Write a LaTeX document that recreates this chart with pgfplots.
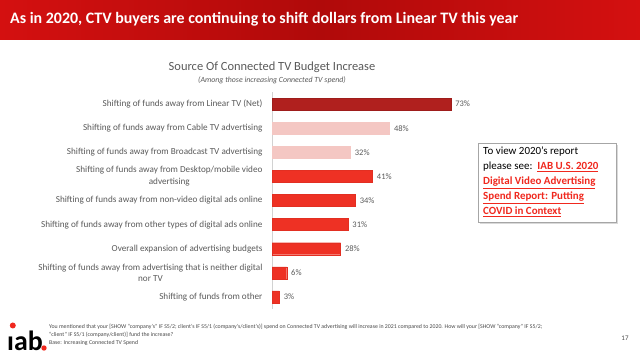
\documentclass[border=0pt]{standalone}
\usepackage{pgfplots}
\pgfplotsset{compat=1.18}
\usepackage{fontspec}
\setmainfont{Carlito}
\definecolor{bannerred}{HTML}{D41010}
\definecolor{bannerdark}{HTML}{B00A0A}
\definecolor{darkred}{HTML}{B0201E}
\definecolor{pinkbar}{HTML}{F4C7C3}
\definecolor{barred}{HTML}{EE3124}
\definecolor{txt}{HTML}{595959}
\definecolor{linkred}{HTML}{F0281E}
\begin{document}
\begin{tikzpicture}
\path[use as bounding box] (0bp,0bp) rectangle (640bp,359bp);
% banner
\shade[left color=bannerred, right color=bannerred, middle color=bannerdark] (0bp,319bp) rectangle (640bp,359bp);
\node[anchor=west, text=white, font=\fontsize{16}{18}\selectfont\bfseries, inner sep=0] at (10bp,340bp) {As in 2020, CTV buyers are continuing to shift dollars from Linear TV this year};
% chart titles
\node[font=\fontsize{12.5}{14}\selectfont, text=txt, inner sep=0] at (272bp,292bp) {Source Of Connected TV Budget Increase};
\node[font=\fontsize{7.9}{9}\selectfont\itshape, text=txt, inner sep=0] at (272bp,279bp) {(Among those increasing Connected TV spend)};
\begin{axis}[at={(272bp,50bp)}, anchor=south west, scale only axis,
  width=245bp, height=217bp, xmin=0, xmax=100, ymin=-0.5, ymax=8.5,
  y dir=reverse, xbar, bar width=12bp, bar shift=0pt,
  hide x axis, axis y line*=left, axis line style={-, gray!35},
  ytick={0,...,8}, major tick length=0pt,
  /pgf/number format/assume math mode=true,
  yticklabels={
    Shifting of funds away from Linear TV (Net),
    Shifting of funds away from Cable TV advertising,
    Shifting of funds away from Broadcast TV advertising,
    {Shifting of funds away from Desktop/mobile video\\advertising},
    Shifting of funds away from non-video digital ads online,
    Shifting of funds away from other types of digital ads online,
    Overall expansion of advertising budgets,
    {Shifting of funds away from advertising that is neither digital\\nor TV},
    Shifting of funds from other},
  yticklabel style={align=center, font=\fontsize{9.2}{12}\selectfont, text=txt, xshift=-6bp},
  nodes near coords={\pgfmathprintnumber{\pgfplotspointmeta}\%},
  every node near coord/.append style={font=\fontsize{8.5}{9}\selectfont, text=txt, xshift=1bp},
  clip=false]
\addplot[fill=darkred, draw=darkred!90!black] coordinates {(73,0)};
\addplot[fill=pinkbar, draw=pinkbar] coordinates {(48,1) (32,2)};
\addplot[fill=barred, draw=barred!95!black] coordinates {(41,3) (34,4) (31,5) (28,6) (6,7) (3,8)};
\end{axis}
% text box
\fill[gray!30] (480bp,135bp) rectangle (618bp,214bp);
\filldraw[draw=gray!70, fill=white] (478bp,137bp) rectangle (616bp,216bp);
\node[anchor=north west, align=left, inner sep=0, font=\fontsize{11}{15}\selectfont] at (483bp,212bp) {%
To view 2020’s report\\
please see:\ \ \textcolor{linkred}{\bfseries\underline{IAB U.S. 2020}}\\
\textcolor{linkred}{\bfseries\underline{Digital Video Advertising}}\\
\textcolor{linkred}{\bfseries\underline{Spend Report: Putting}}\\
\textcolor{linkred}{\bfseries\underline{COVID in Context}}};
% footer logo
\node[anchor=south west, inner sep=0, font=\fontsize{28}{28}\selectfont\bfseries] at (7bp,8bp) {\i ab};
\fill[linkred] (12.8bp,33.5bp) circle (3bp);
\fill[linkred] (44bp,11bp) circle (2.7bp);
\node[anchor=north west, align=left, inner sep=0, text=txt!80!black, font=\fontsize{5.85}{8}\selectfont] at (49bp,35bp) {%
You mentioned that your [SHOW “company’s” IF S5/2; client’s IF S5/1 (company’s/client’s)] spend on Connected TV advertising will increase in 2021 compared to 2020. How will your [SHOW “company” IF S5/2;\\
“client” IF S5/1 (company/client)] fund the increase?\\
Base: Increasing Connected TV Spend};
\node[font=\fontsize{7}{8}\selectfont, text=txt!80!black, inner sep=0] at (625bp,21bp) {17};
\end{tikzpicture}
\end{document}
